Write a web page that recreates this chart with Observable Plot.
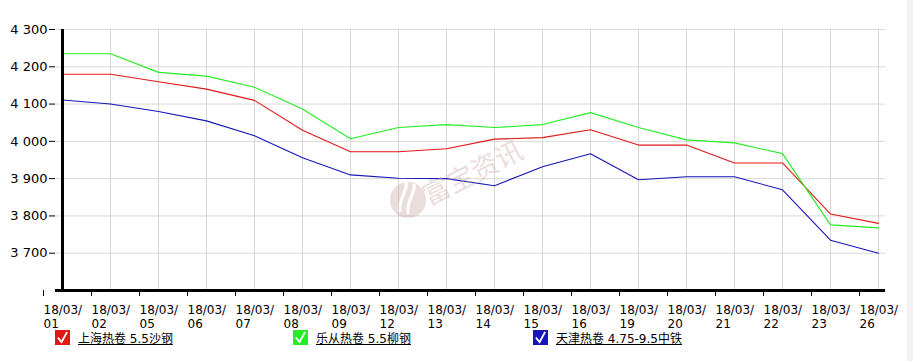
<!DOCTYPE html>
<html><head><meta charset="utf-8">
<script src="https://cdn.jsdelivr.net/npm/d3@7"></script>
<script src="https://cdn.jsdelivr.net/npm/@observablehq/plot@0.6"></script>
<style>
body{margin:0;background:#fff;font-family:"DejaVu Sans","Noto Sans CJK SC",sans-serif;}
#wrap{position:relative;width:913px;height:361px;overflow:hidden;}
#chart{position:absolute;left:0;top:0;}
#legend{position:absolute;top:329px;left:0;width:913px;height:20px;font-size:12px;}
.item{position:absolute;top:0;display:flex;align-items:center;}
.box{width:15px;height:15px;margin-right:8px;display:flex;align-items:center;justify-content:center;}
.lbl{text-decoration:underline;color:#000;font-family:"DejaVu Sans","Noto Sans CJK SC",sans-serif;}
#wm{position:absolute;left:385px;top:110px;pointer-events:none;}
#side{position:absolute;right:0;top:0;width:6px;height:361px;background:#f2f2f2;}
</style></head>
<body><div id="wrap"><div id="chart"></div><div id="legend"></div><div id="wm"></div><div id="side"></div></div>
<script>
const dates = ["01","02","05","06","07","08","09","12","13","14","15","16","19","20","21","22","23","26"];
const seriesNames = ["上海热卷 5.5沙钢","乐从热卷 5.5柳钢","天津热卷 4.75-9.5中铁"];
const shanghai = [4180,4180,4160,4140,4110,4030,3972,3972,3980,4006,4010,4031,3990,3990,3942,3942,3805,3780];
const lecong   = [4235,4235,4185,4175,4145,4087,4007,4037,4045,4037,4045,4077,4037,4004,3996,3967,3776,3768];
const tianjin  = [4111,4100,4080,4055,4015,3956,3910,3901,3900,3881,3932,3967,3897,3905,3905,3870,3735,3700];
const yTicks = [3700,3800,3900,4000,4100,4200,4300];
const colors = ["#e01818","#22ee22","#1515b8"];

const rows = [];
[shanghai, lecong, tianjin].forEach((arr, s) => arr.forEach((v, i) => rows.push({d: dates[i], v, s: seriesNames[s]})));

const fmt = v => d3.format(",")(v).replace(",", " ");

const chart = Plot.plot({
  width: 913, height: 345,
  marginLeft: 55, marginRight: 28, marginTop: 29, marginBottom: 55,
  style: {fontFamily: "DejaVu Sans, sans-serif", fontSize: "12px", color: "#000", background: "transparent", overflow: "visible"},
  x: {type: "point", domain: dates, padding: 0},
  y: {domain: [3600, 4300]},
  color: {domain: seriesNames, range: colors},
  marks: [
    Plot.gridX(dates, {stroke: "#d8d8d8", strokeOpacity: 1}),
    Plot.gridY(yTicks, {stroke: "#d8d8d8", strokeOpacity: 1}),
    Plot.line(rows, {x: "d", y: "v", z: "s", stroke: "s", strokeWidth: 1.1}),
    Plot.axisY(yTicks, {tickFormat: fmt, tickSize: 6, tickPadding: 2, label: null, stroke: "#000", fontSize: 13}),
    Plot.axisX(dates, {tickFormat: d => "18/03/\n" + d, tickSize: 6, tickPadding: 7, label: null, textAnchor: "start", dx: -19, lineHeight: 1.2, fontSize: 12, stroke: "#000"}),
    Plot.ruleX([dates[0]], {stroke: "#000", strokeWidth: 3, y1: 3600, y2: 4300}),
    Plot.ruleY([3600], {stroke: "#000", strokeWidth: 3})
  ]
});
document.getElementById("chart").append(chart);

const leg = document.getElementById("legend");
const xs = [55, 293, 533];
seriesNames.forEach((n, i) => {
  const it = document.createElement("div");
  it.className = "item"; it.style.left = xs[i] + "px";
  it.innerHTML = `<div class="box" style="background:${colors[i]}"><svg width="13" height="13" viewBox="0 0 14 14"><path d="M2 7 L6 12 L12 1" stroke="#fff" stroke-width="2" fill="none"/></svg></div><span class="lbl">${n}</span>`;
  leg.append(it);
});

document.getElementById("wm").innerHTML = `<svg width="200" height="130" viewBox="0 0 200 130"><g opacity="0.35"><circle cx="23" cy="90" r="18" fill="#c9a0a0"/><path d="M15 102 C13 88 23 82 21 72 M23 104 C21 90 31 84 29 74" stroke="#fff" stroke-width="3" fill="none"/><text x="44" y="96" transform="rotate(-27 44 96)" font-size="27" fill="#c9a0a0" font-family="Noto Sans CJK SC">富宝资讯</text></g></svg>`;
</script></body></html>
